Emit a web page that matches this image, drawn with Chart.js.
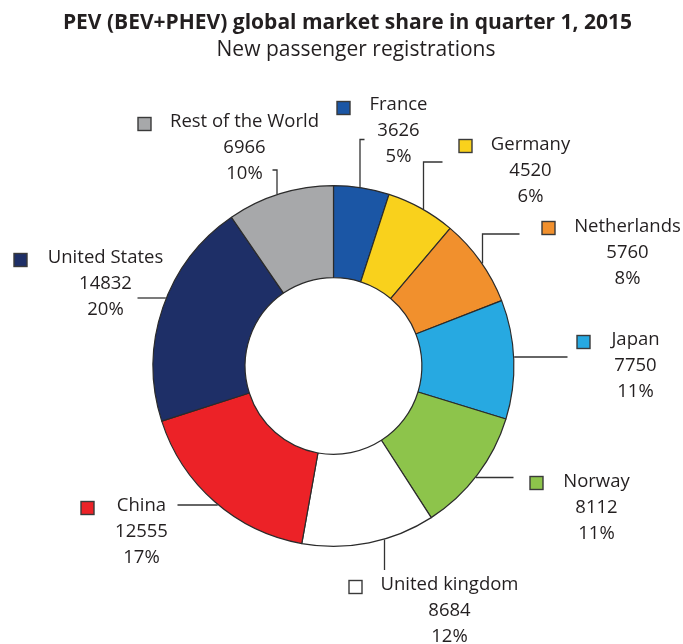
<!DOCTYPE html>
<html>
<head>
<meta charset="utf-8">
<script src="https://cdn.jsdelivr.net/npm/chart.js@4/dist/chart.umd.min.js"></script>
<style>
  html, body { margin: 0; padding: 0; background: #fff; }
  #wrap { width: 683px; height: 644px; }
</style>
</head>
<body>
<div id="wrap"><canvas id="pevChart" width="683" height="644"></canvas></div>
<script>
// --- Data ---
const countries = ['France', 'Germany', 'Netherlands', 'Japan', 'Norway', 'United kingdom', 'China', 'United States', 'Rest of the World'];
const registrations = [3626, 4520, 5760, 7750, 8112, 8684, 12555, 14832, 6966];

const titleText = 'PEV (BEV+PHEV) global market share in quarter 1, 2015';
const subtitleText = 'New passenger registrations';

// --- Styling ---
const sliceColors = ['#1b56a5', '#f9d11c', '#f1902d', '#27a9e1', '#8dc44b', '#ffffff', '#ec2227', '#1e2f67', '#a7a8aa'];
const FONT = '"Open Sans", "DejaVu Sans", sans-serif';
const TEXT_COLOR = '#231f20';

// label layout, offsets from the doughnut centre (text x is the centre of the text block)
const labelLayout = [
  { sq: [10, -258],  tx: [65, -261],  lead: { dir: 'v', x: 26.5, y: -226.5, x2: 31 } },
  { sq: [132, -220], tx: [197, -221], lead: { dir: 'v', x: 90, y: -204, x2: 109 } },
  { sq: [215, -138], tx: [294, -139], lead: { dir: 'v', x: 149, y: -132, x2: 186 } },
  { sq: [250, -24],  tx: [302, -26],  lead: { dir: 'h', y: -9, x2: 234 } },
  { sq: [203, 117],  tx: [263, 116],  lead: { dir: 'h', y: 111.5, x2: 180 } },
  { sq: [22, 221],   tx: [116, 219],  lead: { dir: 'v', x: 51, y: 204, x2: 51 } },
  { sq: [-246, 142], tx: [-192, 140], lead: { dir: 'h', y: 139, x2: -156 } },
  { sq: [-313, -106], tx: [-228, -108], lead: { dir: 'h', y: -68, x2: -196 } },
  { sq: [-189, -242], tx: [-89, -244], lead: { dir: 'v', x: -56.5, y: -196, x2: -61 } }
];

const total = registrations.reduce((a, b) => a + b, 0);

// --- Title block (sits a little right of the doughnut centre, as in the original) ---
const titleBlock = {
  id: 'titleBlock',
  afterDraw(chart) {
    const ctx = chart.ctx;
    ctx.save();
    ctx.fillStyle = TEXT_COLOR;
    ctx.textAlign = 'center';
    ctx.textBaseline = 'middle';
    ctx.font = 'bold 21px ' + FONT;
    ctx.fillText(titleText, 347.5, 23);
    ctx.font = '21px ' + FONT;
    ctx.fillText(subtitleText, 356, 50);
    ctx.restore();
  }
};

// --- Outside labels with leader lines ---
const outsideLabels = {
  id: 'outsideLabels',
  afterDatasetsDraw(chart) {
    const ctx = chart.ctx;
    const arcs = chart.getDatasetMeta(0).data;
    if (!arcs.length) return;
    const cx = arcs[0].x;
    const cy = arcs[0].y;
    const R = arcs[0].outerRadius + 0.5;

    ctx.save();
    arcs.forEach((arc, i) => {
      const lay = labelLayout[i];
      const ld = lay.lead;

      // leader line
      ctx.strokeStyle = '#333';
      ctx.lineWidth = 1.3;
      ctx.beginPath();
      if (ld.dir === 'v') {
        const sy = Math.sqrt(Math.max(R * R - ld.x * ld.x, 0)) * (ld.y < 0 ? -1 : 1);
        ctx.moveTo(cx + ld.x, cy + sy);
        ctx.lineTo(cx + ld.x, cy + ld.y);
        ctx.lineTo(cx + ld.x2, cy + ld.y);
      } else {
        const sx = Math.sqrt(Math.max(R * R - ld.y * ld.y, 0)) * (ld.x2 < 0 ? -1 : 1);
        ctx.moveTo(cx + sx, cy + ld.y);
        ctx.lineTo(cx + ld.x2, cy + ld.y);
      }
      ctx.stroke();

      // colour square
      const s = 13;
      ctx.fillStyle = sliceColors[i];
      ctx.fillRect(cx + lay.sq[0] - s / 2, cy + lay.sq[1] - s / 2, s, s);
      ctx.strokeStyle = '#3a3a3a';
      ctx.lineWidth = 1.4;
      ctx.strokeRect(cx + lay.sq[0] - s / 2, cy + lay.sq[1] - s / 2, s, s);

      // text
      const pct = Math.round(registrations[i] / total * 100) + '%';
      const lines = [countries[i], String(registrations[i]), pct];
      ctx.fillStyle = TEXT_COLOR;
      ctx.font = '18.5px ' + FONT;
      ctx.textAlign = 'center';
      ctx.textBaseline = 'middle';
      lines.forEach((t, k) => {
        ctx.fillText(t, cx + lay.tx[0], cy + lay.tx[1] + k * 26);
      });
    });
    ctx.restore();
  }
};

new Chart(document.getElementById('pevChart'), {
  type: 'doughnut',
  data: {
    labels: countries,
    datasets: [{
      data: registrations,
      backgroundColor: sliceColors,
      borderColor: '#2b2b2b',
      borderWidth: 1.2,
      hoverOffset: 0
    }]
  },
  options: {
    responsive: false,
    animation: false,
    cutout: '49%',
    layout: { padding: { left: 0, right: 16, bottom: 97, top: 185 } },
    plugins: {
      legend: { display: false },
      tooltip: { enabled: false },
      title: { display: false },
      subtitle: { display: false }
    }
  },
  plugins: [outsideLabels, titleBlock]
});
</script>
</body>
</html>
